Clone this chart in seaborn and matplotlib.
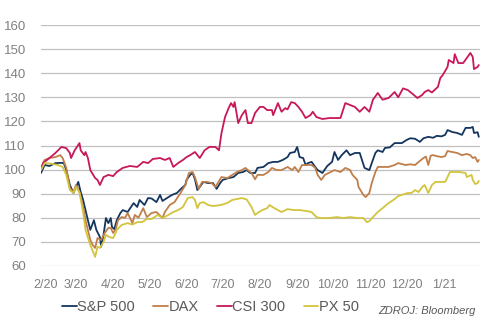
import numpy as np
import pandas as pd
import matplotlib
matplotlib.use("Agg")
import matplotlib.pyplot as plt
import matplotlib.dates as mdates
from matplotlib.transforms import ScaledTranslation
import seaborn as sns

START = "2020-02-01"

sp_days = [0, 3, 7, 12, 17, 19, 21, 24, 27, 28, 31, 33, 35, 37, 39, 41, 44, 46, 49, 50, 52, 54, 56, 58, 59, 61, 63, 66, 68, 72, 77, 80, 82, 86, 89, 92, 96, 99, 101, 106, 109, 113, 117, 120, 121, 124, 126, 128, 130, 132, 135, 139, 143, 146, 149, 151, 156, 160, 164, 168, 171, 174, 178, 180, 185, 189, 193, 197, 201, 205, 207, 211, 213, 215, 218, 220, 222, 225, 228, 230, 234, 238, 242, 244, 247, 250, 254, 257, 261, 265, 269, 273, 275, 278, 280, 284, 286, 290, 294, 296, 300, 304, 307, 311, 315, 318, 322, 326, 329, 333, 336, 338, 342, 346, 350, 353, 357, 359, 360, 363, 364]
sp_vals = [98.6, 101.9, 101.5, 102.7, 102.8, 102.7, 99.8, 93.6, 90.3, 91.5, 94.9, 90.7, 87.4, 83.2, 79.0, 75.0, 79.0, 75.0, 72.0, 68.0, 72.9, 79.9, 77.8, 79.9, 76.2, 75.3, 79.0, 82.0, 83.2, 82.4, 86.1, 84.5, 87.4, 85.3, 88.2, 88.0, 86.5, 89.5, 87.0, 88.6, 89.5, 90.3, 92.3, 93.6, 95.7, 97.8, 98.6, 96.0, 91.5, 92.8, 94.9, 94.4, 94.4, 92.0, 94.4, 95.7, 96.5, 96.9, 98.6, 99.0, 99.8, 98.6, 98.6, 100.7, 101.1, 102.7, 103.2, 103.2, 104.0, 105.2, 106.9, 107.3, 109.4, 105.2, 104.8, 101.9, 102.7, 103.2, 101.1, 99.8, 98.6, 101.5, 103.2, 107.3, 104.0, 106.0, 108.0, 106.0, 106.9, 106.9, 100.7, 99.8, 102.7, 106.9, 108.0, 107.3, 109.0, 109.2, 111.0, 111.0, 111.0, 112.3, 113.0, 112.8, 111.5, 113.0, 113.6, 113.2, 114.0, 113.8, 114.4, 116.4, 115.6, 115.2, 114.4, 117.3, 117.3, 117.7, 115.2, 115.5, 113.6]

dax_days = [0, 3, 7, 12, 16, 18, 21, 24, 27, 29, 32, 35, 37, 41, 43, 45, 47, 50, 53, 56, 58, 60, 62, 64, 67, 70, 72, 76, 78, 81, 85, 88, 92, 96, 101, 103, 107, 111, 116, 120, 123, 126, 128, 131, 134, 138, 142, 145, 147, 150, 155, 159, 163, 167, 170, 172, 175, 178, 180, 185, 189, 192, 196, 200, 205, 209, 211, 214, 217, 221, 225, 228, 230, 233, 236, 240, 244, 249, 253, 257, 259, 263, 264, 268, 270, 273, 275, 278, 280, 284, 289, 294, 297, 303, 307, 311, 314, 318, 320, 322, 324, 326, 329, 333, 336, 338, 342, 346, 350, 354, 357, 359, 361, 363, 364]
dax_vals = [100.7, 104.0, 104.8, 105.2, 106.0, 104.8, 100.7, 92.3, 90.7, 93.6, 90.7, 84.5, 79.0, 70.8, 68.7, 67.5, 71.6, 70.8, 73.7, 75.8, 75.8, 73.7, 75.0, 79.0, 80.3, 80.0, 82.0, 77.8, 81.2, 80.0, 84.0, 80.3, 82.0, 82.4, 79.9, 82.4, 85.3, 86.5, 90.3, 93.6, 98.6, 99.0, 96.9, 92.0, 94.9, 94.9, 94.4, 92.8, 94.4, 96.9, 96.5, 97.8, 99.0, 99.8, 100.7, 99.8, 98.6, 96.0, 97.8, 97.8, 99.0, 100.7, 99.8, 99.8, 101.1, 99.8, 101.1, 99.0, 101.9, 101.9, 101.9, 100.7, 97.8, 95.7, 97.8, 98.8, 99.8, 99.0, 100.7, 99.8, 97.8, 95.7, 92.8, 89.5, 88.6, 90.3, 94.4, 99.0, 101.1, 101.1, 101.1, 101.9, 102.7, 101.9, 102.2, 101.9, 103.2, 104.8, 105.4, 101.9, 105.8, 106.0, 105.6, 105.2, 105.6, 107.7, 107.3, 106.9, 106.0, 106.5, 106.0, 104.8, 105.2, 103.2, 104.0]

csi_days = [0, 2, 3, 8, 12, 17, 21, 24, 25, 28, 32, 33, 36, 37, 39, 41, 45, 47, 49, 52, 56, 60, 63, 68, 74, 80, 85, 89, 93, 99, 103, 107, 110, 114, 118, 121, 124, 128, 132, 136, 140, 145, 148, 150, 153, 156, 158, 160, 161, 164, 167, 170, 172, 175, 178, 182, 185, 188, 192, 193, 197, 200, 203, 205, 208, 211, 214, 217, 220, 224, 226, 229, 234, 240, 249, 253, 257, 261, 265, 269, 273, 276, 280, 284, 289, 294, 297, 301, 305, 308, 313, 317, 319, 322, 325, 328, 330, 332, 334, 338, 339, 343, 344, 347, 351, 354, 357, 359, 360, 363, 364]
csi_vals = [100.0, 103.0, 103.2, 105.2, 106.9, 109.4, 108.9, 106.9, 104.8, 108.0, 111.0, 108.0, 106.0, 107.3, 104.8, 99.8, 96.5, 95.7, 93.6, 96.9, 97.8, 97.3, 99.0, 100.7, 101.5, 101.1, 103.2, 102.7, 104.4, 104.8, 104.0, 104.8, 101.1, 102.7, 104.0, 105.2, 106.0, 107.3, 104.8, 108.0, 109.4, 109.4, 108.0, 115.0, 121.8, 125.5, 127.6, 126.0, 128.0, 119.3, 122.6, 124.7, 119.3, 119.3, 123.5, 126.0, 126.0, 124.7, 124.7, 122.6, 127.6, 124.0, 125.5, 125.0, 128.0, 127.6, 126.0, 124.0, 121.4, 122.6, 124.0, 121.8, 121.0, 121.4, 121.4, 127.6, 126.8, 126.0, 124.0, 126.0, 124.0, 129.0, 131.8, 129.0, 129.7, 132.2, 130.0, 133.7, 133.0, 131.8, 129.7, 131.0, 132.2, 133.0, 132.0, 133.4, 134.3, 138.0, 139.2, 142.6, 145.5, 144.2, 147.9, 144.2, 144.2, 146.3, 148.4, 146.7, 141.7, 142.6, 143.4]

px_days = [0, 3, 8, 14, 18, 21, 24, 27, 29, 32, 35, 37, 41, 42, 45, 47, 49, 52, 54, 57, 60, 62, 63, 67, 72, 76, 80, 84, 88, 92, 97, 101, 106, 110, 114, 118, 122, 126, 128, 130, 132, 135, 139, 143, 147, 151, 155, 159, 163, 167, 171, 175, 178, 180, 184, 188, 190, 193, 197, 200, 205, 210, 215, 221, 225, 229, 232, 240, 246, 251, 257, 263, 268, 271, 273, 276, 280, 284, 289, 293, 297, 300, 305, 308, 311, 314, 317, 319, 322, 325, 328, 332, 336, 338, 340, 344, 348, 353, 354, 358, 359, 361, 363, 364]
px_vals = [99.8, 102.7, 102.5, 101.9, 101.1, 97.8, 91.5, 90.3, 92.8, 90.5, 82.4, 75.0, 68.7, 67.5, 63.8, 68.0, 67.5, 70.0, 72.9, 72.0, 71.6, 73.7, 75.0, 77.0, 77.8, 77.2, 78.2, 78.2, 79.5, 79.5, 81.2, 79.9, 81.2, 82.4, 83.2, 84.5, 88.2, 88.6, 87.4, 84.0, 86.1, 86.5, 85.3, 84.9, 85.1, 85.5, 86.2, 87.4, 87.8, 88.2, 87.6, 84.5, 81.2, 82.0, 83.2, 84.0, 85.3, 84.3, 83.2, 82.4, 83.6, 83.2, 83.2, 82.8, 82.4, 80.3, 79.9, 79.9, 80.3, 79.9, 80.3, 79.9, 79.9, 78.2, 78.6, 80.3, 82.4, 84.0, 86.1, 87.4, 89.0, 89.5, 90.3, 90.3, 91.5, 90.7, 92.8, 93.6, 90.3, 93.6, 94.9, 94.9, 94.9, 96.9, 99.0, 99.0, 99.0, 98.6, 96.9, 97.8, 95.7, 94.0, 94.4, 95.3]

series_names = ["S&P 500", "DAX", "CSI 300", "PX 50"]
series_colors = ["#14365e", "#bf7f4b", "#c8175a", "#d2c43c"]
y_ticks = [60, 70, 80, 90, 100, 110, 120, 130, 140, 150, 160]
x_tick_months = pd.date_range("2020-02-01", "2021-01-01", freq="MS")
source_text = "ZDROJ: Bloomberg"

start = pd.Timestamp(START)
frames = []
for name, d, v in zip(series_names,
                      [sp_days, dax_days, csi_days, px_days],
                      [sp_vals, dax_vals, csi_vals, px_vals]):
    frames.append(pd.DataFrame({
        "date": start + pd.to_timedelta(d, unit="D"),
        "value": v,
        "series": name,
    }))
df = pd.concat(frames, ignore_index=True)

sns.set_theme(style="white")
plt.rcParams["font.family"] = ["Liberation Sans", "DejaVu Sans"]

fig = plt.figure(figsize=(4.96, 3.22), dpi=100)
ax = fig.add_axes([41 / 496, 1 - 266 / 322, (480 - 41) / 496, (266 - 25) / 322])

sns.lineplot(data=df, x="date", y="value", hue="series", hue_order=series_names,
             palette=dict(zip(series_names, series_colors)), estimator=None,
             linewidth=1.3, ax=ax, legend=True)

ax.set_ylim(60, 160)
ax.set_yticks(y_ticks)
ax.set_xlim(pd.Timestamp("2020-02-01"), pd.Timestamp("2021-01-31"))
ax.set_xticks(x_tick_months)
ax.xaxis.set_major_formatter(plt.FuncFormatter(
    lambda v, p: "{}/{}".format(mdates.num2date(v).month, mdates.num2date(v).strftime("%y"))))
ax.set_xlabel("")
ax.set_ylabel("")
ax.grid(axis="y", color="#c0c0c0", linewidth=0.9)
ax.grid(axis="x", visible=False)
for s in ax.spines.values():
    s.set_visible(False)
ax.tick_params(axis="both", length=0, colors="#808080")
ax.tick_params(axis="y", labelsize=9.5, pad=11)
ax.tick_params(axis="x", labelsize=9, pad=9)
ax.set_axisbelow(True)

# first x label nudged right like the original
lbl = ax.get_xticklabels()[0]
lbl.set_transform(lbl.get_transform() + ScaledTranslation(5 / 100, 0, fig.dpi_scale_trans))

handles, labels = ax.get_legend_handles_labels()
ax.legend(handles, labels, loc="center left", bbox_to_anchor=(62 / 496, 1 - 307 / 322),
          bbox_transform=fig.transFigure, ncol=4, frameon=False, fontsize=10.5,
          handlelength=1.0, handletextpad=0.05, columnspacing=1.25,
          borderpad=0, borderaxespad=0, labelcolor="#595959")

fig.text(476 / 496, 1 - 311 / 322, source_text, ha="right", va="center",
         style="italic", fontsize=8, color="#595959")

fig.savefig("out.png", dpi=100)
